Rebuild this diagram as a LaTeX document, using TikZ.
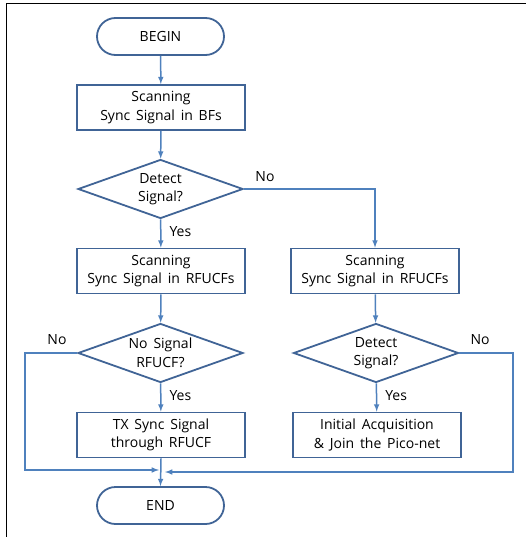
\documentclass[tikz,border=0pt]{standalone}
\usepackage{fontspec}
\setmainfont{Open Sans}[WordSpace=1.6]
\usetikzlibrary{shapes.geometric,shapes.misc}
\definecolor{nodeblue}{RGB}{64,100,150}
\definecolor{lineblue}{RGB}{79,129,189}
\tikzset{
  terminal/.style={rounded rectangle,draw=nodeblue,line width=1.8pt,minimum width=127pt,minimum height=37pt,inner sep=0pt,align=center},
  process/.style={rectangle,draw=nodeblue,line width=1.8pt,minimum width=168pt,minimum height=45pt,inner sep=0pt,align=center},
  decision/.style={diamond,draw=nodeblue,line width=1.8pt,minimum width=165pt,minimum height=59pt,inner sep=0pt,aspect=2.8,align=center},
  flow/.style={draw=lineblue,line width=1.5pt,-latex},
  lbl/.style={inner sep=0pt}
}
\begin{document}
\begin{tikzpicture}[x=1pt,y=-1pt,font=\fontsize{14}{18.5}\selectfont]
\useasboundingbox (0,0) rectangle (526,537);
% frame
\draw[line width=1.2pt] (6.5,537) -- (6.5,3.5) -- (526,3.5);

\node[terminal] (begin) at (160.5,36.5) {BEGIN};
\node[process] (scanbf) at (161,107.5) {Scanning\\Sync Signal in BFs};
\node[decision] (detect) at (160.5,189) {Detect\\Signal?};
\node[process] (scanl) at (161,271) {Scanning\\Sync Signal in RFUCFs};
\node[process] (scanr) at (375,271) {Scanning\\Sync Signal in RFUCFs};
\node[decision] (nosig) at (160.5,353) {No Signal\\RFUCF?};
\node[decision] (detectr) at (376,353) {Detect\\Signal?};
\node[process] (tx) at (161,435) {TX Sync Signal\\through RFUCF};
\node[process] (join) at (377,435) {Initial Acquisition\\\& Join the Pico-net};
\node[terminal] (end) at (160.5,505.5) {END};

\coordinate (jl) at (159,470);
\coordinate (jr) at (165,472);

\draw[flow] (begin) -- (scanbf);
\draw[flow] (scanbf) -- (detect);
\draw[flow] (detect) -- node[lbl,right=8pt,pos=0.45]{Yes} (scanl);
\draw[flow] (detect.east) -| (scanr.north);
\draw[flow] (scanl) -- (nosig);
\draw[flow] (scanr) -- (detectr);
\draw[flow] (nosig) -- node[lbl,right=8pt,pos=0.45]{Yes} (tx);
\draw[flow] (detectr) -- node[lbl,right=8pt,pos=0.45]{Yes} (join);
\draw[flow] (nosig.west) -- (25,353) |- (jl);
\draw[flow] (detectr.east) -- (513,353) |- (jr);
\draw[flow] (tx.south) -- (end.north);

\node[lbl] (no1) at (265,177) {No};
\node[lbl] (no2) at (57,340) {No};
\node[lbl] (no3) at (480,340) {No};
\end{tikzpicture}
\end{document}
